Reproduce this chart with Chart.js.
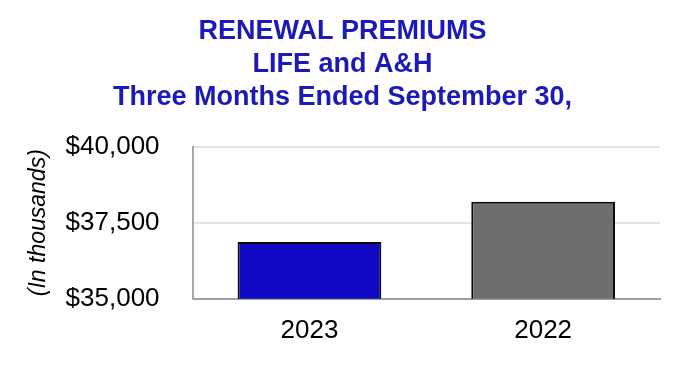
<!DOCTYPE html>
<html>
<head>
<meta charset="utf-8">
<script src="https://cdn.jsdelivr.net/npm/chart.js@4/dist/chart.umd.min.js"></script>
<style>
  html, body { margin: 0; padding: 0; background: #fff; }
  #wrap { width: 680px; height: 366px; }
</style>
</head>
<body>
<div id="wrap"><canvas id="chart"></canvas></div>
<script>
// chart data
const years = ['2023', '2022'];
const premiums = [36870, 38190];
const barColors = ['#1108c4', '#6e6e6e'];
const tickValues = [35000, 37500, 40000];
const titleLines = ['RENEWAL PREMIUMS', 'LIFE and A&H', 'Three Months Ended September 30,'];

const FONT = 'Arial, "Liberation Sans", sans-serif';

const ctx = document.getElementById('chart');
new Chart(ctx, {
    type: 'bar',
    data: {
        labels: years,
        datasets: [{
            data: premiums,
            backgroundColor: barColors,
            borderColor: '#0a0a0a',
            borderWidth: 2,
            borderSkipped: 'bottom',
            categoryPercentage: 1,
            barPercentage: 0.615
        }]
    },
    options: {
        responsive: true,
        maintainAspectRatio: false,
        animation: false,
        layout: {
            padding: { top: 0, right: 20, bottom: 4, left: 25 }
        },
        plugins: {
            legend: { display: false },
            tooltip: { enabled: false },
            title: {
                display: true,
                text: titleLines,
                color: '#1a1ab8',
                font: { family: FONT, size: 27, weight: 'bold', lineHeight: 1.23 },
                padding: { top: 15, bottom: 32 }
            }
        },
        scales: {
            x: {
                grid: { display: false, drawTicks: false },
                border: { display: true, color: '#a0a0a0', width: 2 },
                ticks: {
                    color: '#000',
                    padding: 16,
                    font: { family: FONT, size: 26 }
                }
            },
            y: {
                min: 35000,
                max: 40000,
                afterBuildTicks: axis => {
                    axis.ticks = tickValues.map(v => ({ value: v }));
                },
                grid: { color: '#e4e4e4', lineWidth: 2, drawTicks: false },
                border: { display: true, color: '#a8a8a8', width: 2 },
                ticks: {
                    color: '#000',
                    padding: 33,
                    font: { family: FONT, size: 26 },
                    callback: v => '$' + v.toLocaleString('en-US')
                },
                title: {
                    display: true,
                    text: '(In thousands)',
                    color: '#000',
                    font: { family: FONT, size: 23, style: 'italic' },
                    padding: { top: 0, bottom: -20 }
                }
            }
        }
    }
});
</script>
</body>
</html>
